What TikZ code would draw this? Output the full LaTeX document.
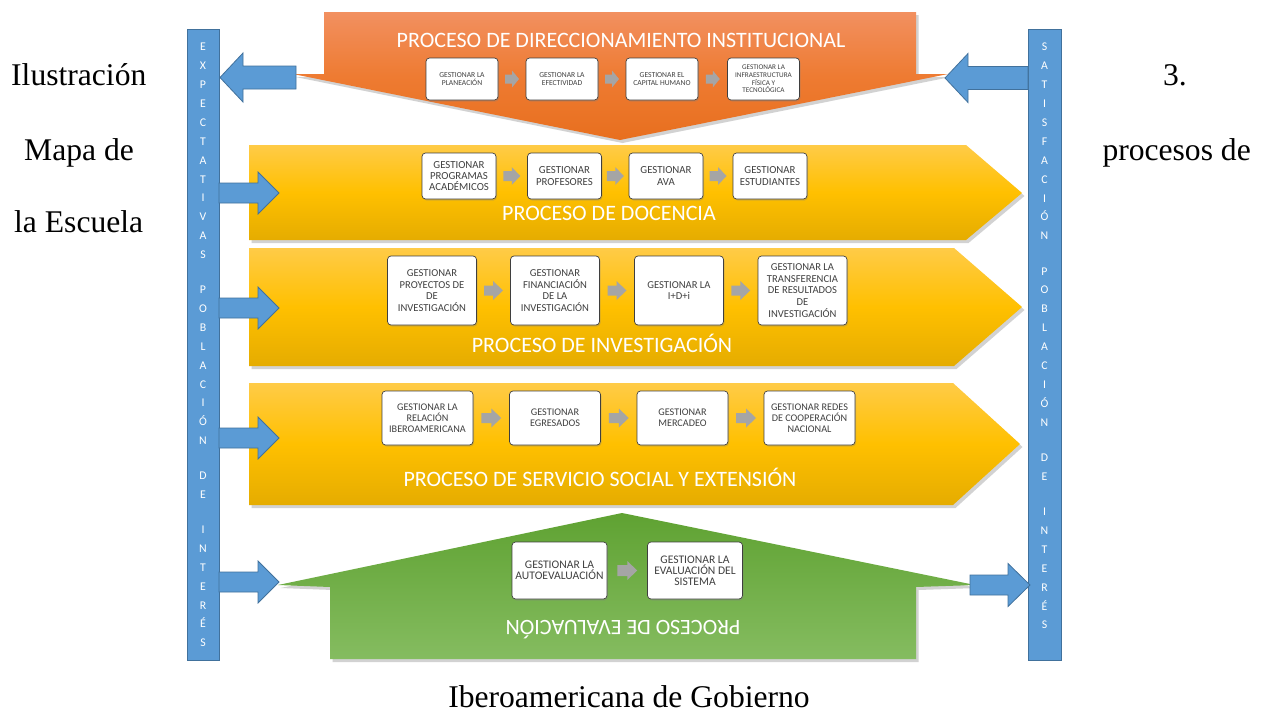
\documentclass[tikz,border=0pt]{standalone}
\usepackage{fontspec}
\setmainfont{Carlito}
\newfontfamily\tnr{Liberation Serif}
\usetikzlibrary{shadows,calc}
\definecolor{bluefill}{HTML}{5B9BD5}
\definecolor{blueline}{HTML}{41719C}
\definecolor{yeltop}{HTML}{FFCB47}
\definecolor{yelmid}{HTML}{FFC000}
\definecolor{yelbot}{HTML}{E5AC00}
\definecolor{ortop}{HTML}{F29060}
\definecolor{ormid}{HTML}{EE7B32}
\definecolor{orbot}{HTML}{E86F1E}
\definecolor{grtop}{HTML}{5FA232}
\definecolor{grbot}{HTML}{85BC60}
\definecolor{boxline}{HTML}{3F3F3F}
\definecolor{boxtext}{HTML}{404040}
\definecolor{garrowc}{HTML}{A5A5A5}
\newcommand\blkarrow[7]{% style, tail x, tip x, yc, shaft half, head half, head len
  \draw[#1] (#2,{#4-(#5)}) -- ({#3-(#7)},{#4-(#5)}) -- ({#3-(#7)},{#4-(#6)}) -- (#3,#4)
    -- ({#3-(#7)},{#4+(#6)}) -- ({#3-(#7)},{#4+(#5)}) -- (#2,{#4+(#5)}) -- cycle;}
\newcommand\grayarrow[6]{% from, to, half length, shaft half, head half, head len
  \path ($(#1.east)!0.5!(#2.west)$) coordinate (gm);
  \fill[garrowc] ([shift={(-#3,-#4)}]gm) -- ([shift={({#3-#6},-#4)}]gm) -- ([shift={({#3-#6},-#5)}]gm)
    -- ([shift={(#3,0)}]gm) -- ([shift={({#3-#6},#5)}]gm) -- ([shift={({#3-#6},#4)}]gm)
    -- ([shift={(-#3,#4)}]gm) -- cycle;}
\tikzset{
  band/.style={drop shadow={shadow xshift=2.5pt,shadow yshift=-3pt,opacity=0.25,fill=black!70}},
  yband/.style={band, top color=yeltop, bottom color=yelbot, middle color=yelmid},
  oband/.style={band, top color=ortop, bottom color=orbot, middle color=ormid},
  gband/.style={band, top color=grtop, bottom color=grbot},
  pbox/.style={draw=boxline, line width=0.7pt, fill=white, rounded corners=3.5pt, align=center,
    text=boxtext, inner sep=0pt, drop shadow={shadow xshift=1pt,shadow yshift=-1.5pt,opacity=0.3}},
  obox/.style={pbox, minimum width=72pt, minimum height=42pt, font=\fontsize{7.6}{8.6}\selectfont},
  obox4/.style={pbox, minimum width=72pt, minimum height=42pt, font=\fontsize{7.2}{7.6}\selectfont},
  dbox/.style={pbox, minimum width=74pt, minimum height=46pt, font=\fontsize{10.8}{11.4}\selectfont},
  ibox/.style={pbox, minimum width=89pt, minimum height=69pt, font=\fontsize{10.6}{11.8}\selectfont},
  sbox/.style={pbox, minimum width=91pt, minimum height=54pt, font=\fontsize{10.2}{10.8}\selectfont},
  ebox/.style={pbox, minimum width=95pt, minimum height=57pt, font=\fontsize{11.6}{11}\selectfont},
  ptitle/.style={text=white, font=\fontsize{22}{26}\selectfont, inner sep=0pt, anchor=base},
  bar/.style={draw=blueline, line width=0.8pt, fill=bluefill},
  barletters/.style={text=white, font=\fontsize{11.8}{18.9}\selectfont, align=center, inner sep=0pt, anchor=north},
  barrow/.style={draw=blueline, line width=0.8pt, fill=bluefill},
  capt/.style={font=\tnr\fontsize{31.6}{36}\selectfont, inner sep=0pt, text=black}
}
\begin{document}
\begin{tikzpicture}[x=1pt,y=-1pt]
\useasboundingbox (0,0) rectangle (1270,715);
\fill[white] (0,0) rectangle (1270,715);

% caption text around the picture
\node[capt, anchor=base west] (c1) at (11,85) {Ilustración};
\node[capt, anchor=base east] (c2) at (1187,85) {3.};
\node[capt, anchor=base west] (c3) at (24,160) {Mapa de};
\node[capt, anchor=base east] (c4) at (1251,160) {procesos de};
\node[capt, anchor=base west] (c5) at (14,232) {la Escuela};
\node[capt, anchor=base] (c6) at (629,707) {Iberoamericana de Gobierno};

% process shapes
\path[oband] (324,12) -- (916,12) -- (916,74) -- (948,74) -- (620,140) -- (293,74) -- (324,74) -- cycle;
\path[yband] (249,145) -- (966,145) -- (1022,193) -- (966,240) -- (249,240) -- cycle;
\path[yband] (249,248) -- (954,248) -- (1022,307) -- (954,366) -- (249,366) -- cycle;
\path[yband] (249,383) -- (953,383) -- (1020,444) -- (953,505) -- (249,505) -- cycle;
\path[gband] (330,659) -- (330,587) -- (278,585) -- (622,513) -- (975,585) -- (916,587) -- (916,659) -- cycle;

% titles
\node[ptitle] (t1) at (621,47) {PROCESO DE DIRECCIONAMIENTO INSTITUCIONAL};
\node[ptitle] (t2) at (609,220) {PROCESO DE DOCENCIA};
\node[ptitle] (t3) at (602,352) {PROCESO DE INVESTIGACIÓN};
\node[ptitle] (t4) at (600,486) {PROCESO DE SERVICIO SOCIAL Y EXTENSIÓN};
\node[ptitle, rotate=180] (t5) at (623,620) {PROCESO DE EVALUACIÓN};

% direccionamiento boxes
\node[obox] (o1) at (462,79) {GESTIONAR LA\\PLANEACIÓN};
\node[obox] (o2) at (562,79) {GESTIONAR LA\\EFECTIVIDAD};
\node[obox] (o3) at (662,79) {GESTIONAR EL\\CAPITAL HUMANO};
\node[obox4] (o4) at (763.5,79) {GESTIONAR LA\\INFRAESTRUCTURA\\FÍSICA Y\\TECNOLÓGICA};
\grayarrow{o1}{o2}{7}{4.5}{8.5}{7}
\grayarrow{o2}{o3}{7}{4.5}{8.5}{7}
\grayarrow{o3}{o4}{7}{4.5}{8.5}{7}

% docencia boxes
\node[dbox] (d1) at (459,176) {GESTIONAR\\PROGRAMAS\\ACADÉMICOS};
\node[dbox] (d2) at (564.5,176) {GESTIONAR\\PROFESORES};
\node[dbox] (d3) at (666,176) {GESTIONAR\\AVA};
\node[dbox] (d4) at (770,176) {GESTIONAR\\ESTUDIANTES};
\grayarrow{d1}{d2}{8.5}{5}{9}{8.5}
\grayarrow{d2}{d3}{8.5}{5}{9}{8.5}
\grayarrow{d3}{d4}{8.5}{5}{9}{8.5}

% investigacion boxes
\node[ibox] (i1) at (432,290.5) {GESTIONAR\\PROYECTOS DE\\DE\\INVESTIGACIÓN};
\node[ibox] (i2) at (555,290.5) {GESTIONAR\\FINANCIACIÓN\\DE LA\\INVESTIGACIÓN};
\node[ibox] (i3) at (679,290.5) {GESTIONAR LA\\I+D+i};
\node[ibox] (i4) at (802.5,290.5) {GESTIONAR LA\\TRANSFERENCIA\\DE RESULTADOS\\DE\\INVESTIGACIÓN};
\grayarrow{i1}{i2}{9.5}{5}{9.5}{10}
\grayarrow{i2}{i3}{9.5}{5}{9.5}{10}
\grayarrow{i3}{i4}{9.5}{5}{9.5}{10}

% servicio boxes
\node[sbox] (s1) at (427.5,418) {GESTIONAR LA\\RELACIÓN\\IBEROAMERICANA};
\node[sbox] (s2) at (555,418) {GESTIONAR\\EGRESADOS};
\node[sbox] (s3) at (682.5,418) {GESTIONAR\\MERCADEO};
\node[sbox] (s4) at (809.5,418) {GESTIONAR REDES\\DE COOPERACIÓN\\NACIONAL};
\grayarrow{s1}{s2}{10}{5}{9.5}{10}
\grayarrow{s2}{s3}{10}{5}{9.5}{10}
\grayarrow{s3}{s4}{10}{5}{9.5}{10}

% evaluacion boxes
\node[ebox] (e1) at (559.5,570.5) {GESTIONAR LA\\AUTOEVALUACIÓN};
\node[ebox] (e2) at (695,570.5) {GESTIONAR LA\\EVALUACIÓN DEL\\SISTEMA};
\grayarrow{e1}{e2}{10}{5.5}{9.5}{10}

% side bars
\draw[bar] (187,29) rectangle (219,660);
\draw[bar] (1028,29) rectangle (1061,660);
\node[barletters] (lb) at (203,43) {E\\X\\P\\E\\C\\T\\A\\T\\I\\V\\A\\S\\[16pt]P\\O\\B\\L\\A\\C\\I\\Ó\\N\\[16pt]D\\E\\[16pt]I\\N\\T\\E\\R\\É\\S};
\node[barletters] (rb) at (1044.5,43) {S\\A\\T\\I\\S\\F\\A\\C\\I\\Ó\\N\\[16.3pt]P\\O\\B\\L\\A\\C\\I\\Ó\\N\\[16.3pt]D\\E\\[16.3pt]I\\N\\T\\E\\R\\É\\S};

% blue block arrows
\blkarrow{barrow}{296}{220}{77.5}{11.5}{24.5}{-23}
\blkarrow{barrow}{1028}{945}{78}{11.5}{24.5}{-23}
\blkarrow{barrow}{219}{279}{193}{10}{21}{21}
\blkarrow{barrow}{219}{279}{308}{10}{21}{21}
\blkarrow{barrow}{219}{279}{438}{10}{21}{21}
\blkarrow{barrow}{219}{279}{582}{10}{21}{21}
\blkarrow{barrow}{970}{1030}{585}{10}{21.5}{22}
\end{tikzpicture}
\end{document}
